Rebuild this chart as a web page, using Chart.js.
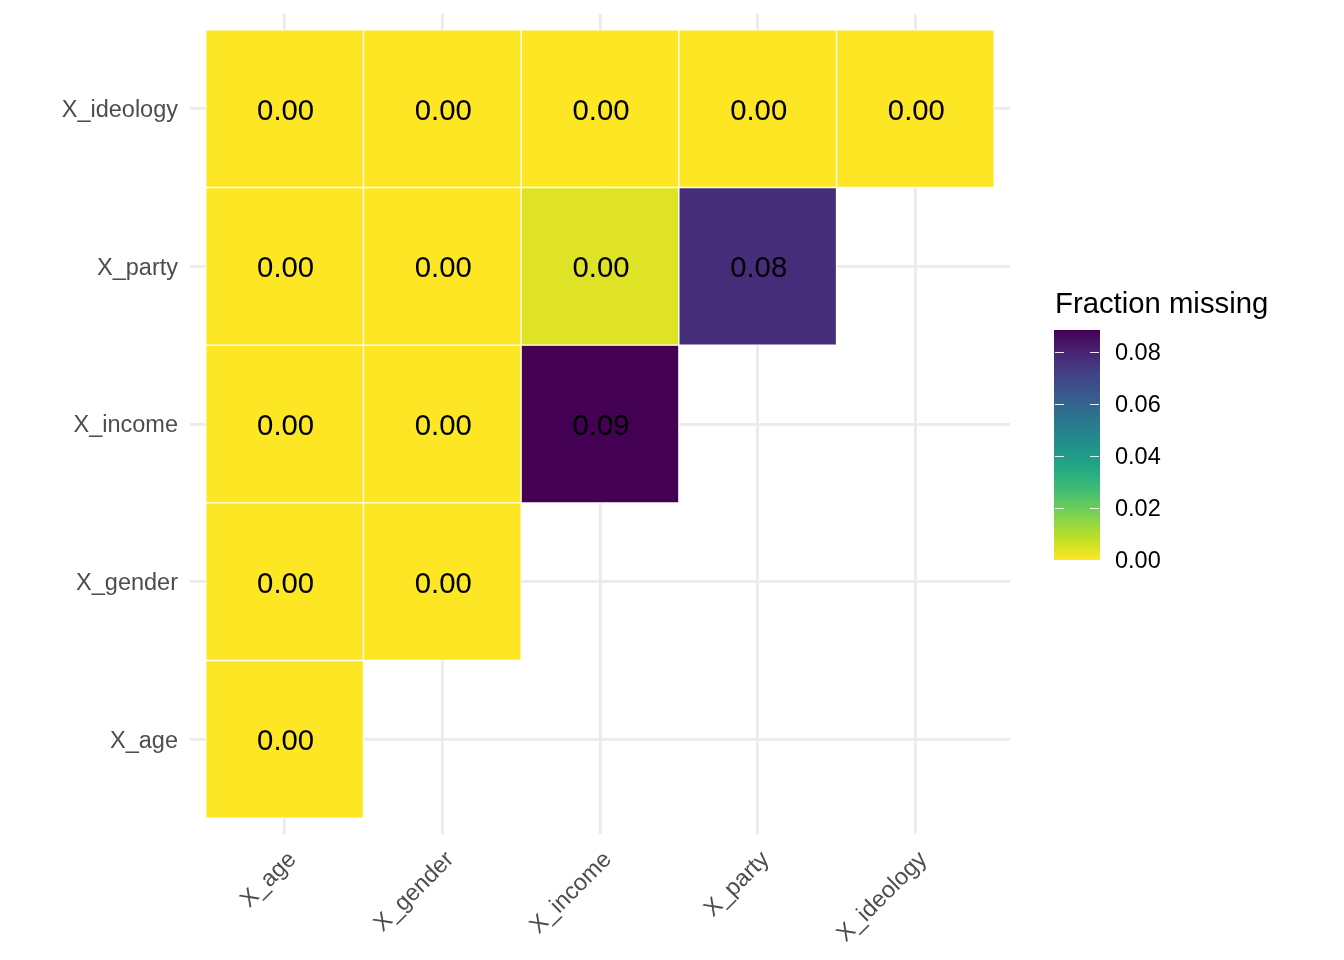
<!DOCTYPE html>
<html>
<head>
<meta charset="utf-8">
<script src="https://cdn.jsdelivr.net/npm/chart.js@4.4.1/dist/chart.umd.min.js"></script>
<style>
  html, body { margin: 0; padding: 0; background: #ffffff; }
  canvas { display: block; }
</style>
</head>
<body>
<canvas id="heatmap" width="1344" height="960"></canvas>
<script>
// variables, bottom to top / left to right
const variables = ['X_age', 'X_gender', 'X_income', 'X_party', 'X_ideology'];

// fraction missing, one row per y variable, columns follow variables
const fracAge = [0.000];
const fracGender = [0.000, 0.000];
const fracIncome = [0.000, 0.000, 0.0883];
const fracParty = [0.000, 0.000, 0.004, 0.077];
const fracIdeology = [0.000, 0.000, 0.000, 0.000, 0.000];

const legendTicks = [0.00, 0.02, 0.04, 0.06, 0.08];
const legendTitle = 'Fraction missing';

const FONT = '"Liberation Sans", Arial, Helvetica, sans-serif';

// viridis stops
const viridis = ['#440154', '#482475', '#414487', '#355F8D', '#2A788E', '#21908D',
  '#22A884', '#42BE71', '#7AD151', '#BBDF27', '#FDE725'];

const hexToRgb = (h) => [1, 3, 5].map((i) => parseInt(h.slice(i, i + 2), 16));

const viridisAt = (t) => {
  t = Math.min(1, Math.max(0, t));
  const pos = t * (viridis.length - 1);
  const i = Math.min(Math.floor(pos), viridis.length - 2);
  const f = pos - i;
  const a = hexToRgb(viridis[i]);
  const b = hexToRgb(viridis[i + 1]);
  const c = a.map((v, k) => Math.round(v + (b[k] - v) * f));
  return `rgb(${c[0]}, ${c[1]}, ${c[2]})`;
};

const rows = [fracAge, fracGender, fracIncome, fracParty, fracIdeology];
const allValues = rows.flat();
const vMin = Math.min(...allValues);
const vMax = Math.max(...allValues);

// reversed viridis: low = yellow, high = purple
const fillFor = (v) => viridisAt(1 - (v - vMin) / (vMax - vMin));

const cells = [];
rows.forEach((row, r) => {
  row.forEach((v, c) => {
    cells.push({ x: c + 1, y: [r + 0.5, r + 1.5], v: v });
  });
});

// text inside each tile
const cellLabels = {
  id: 'cellLabels',
  afterDatasetsDraw(chart) {
    const { ctx } = chart;
    const meta = chart.getDatasetMeta(0);
    ctx.save();
    ctx.font = `29.3px ${FONT}`;
    ctx.fillStyle = '#000000';
    ctx.textAlign = 'center';
    ctx.textBaseline = 'middle';
    meta.data.forEach((bar, i) => {
      const cy = (bar.y + bar.base) / 2;
      ctx.fillText(cells[i].v.toFixed(2), bar.x + 1, cy + 3);
    });
    ctx.restore();
  }
};

// colourbar legend at the right
const colourBar = {
  id: 'colourBar',
  afterDraw(chart) {
    const { ctx } = chart;
    const left = 1054, right = 1100, top = 330, bottom = 560;
    const yFor = (v) => bottom - (v - vMin) / (vMax - vMin) * (bottom - top);
    ctx.save();
    const grad = ctx.createLinearGradient(0, bottom, 0, top);
    for (let s = 0; s <= 40; s++) {
      const v = vMin + (vMax - vMin) * s / 40;
      grad.addColorStop(s / 40, fillFor(v));
    }
    ctx.fillStyle = grad;
    ctx.fillRect(left, top, right - left, bottom - top);

    ctx.strokeStyle = 'rgba(255, 255, 255, 0.9)';
    ctx.lineWidth = 1.2;
    ctx.font = `23.5px ${FONT}`;
    ctx.fillStyle = '#000000';
    ctx.textAlign = 'left';
    ctx.textBaseline = 'middle';
    legendTicks.forEach((t) => {
      const y = Math.round(yFor(t)) + 0.5;
      ctx.beginPath();
      ctx.moveTo(left + 1, y); ctx.lineTo(left + 10, y);
      ctx.moveTo(right - 10, y); ctx.lineTo(right - 1, y);
      ctx.stroke();
      ctx.fillText(t.toFixed(2), 1115, yFor(t) + 2);
    });

    ctx.font = `29.3px ${FONT}`;
    ctx.fillText(legendTitle, 1055, 305);
    ctx.restore();
  }
};

const ticksFor = (scale) => {
  scale.ticks = variables.map((_, i) => ({ value: i + 1 }));
};

new Chart(document.getElementById('heatmap'), {
  type: 'bar',
  data: {
    datasets: [{
      data: cells,
      backgroundColor: cells.map((c) => fillFor(c.v)),
      borderColor: '#ffffff',
      borderWidth: 1,
      borderSkipped: false,
      barPercentage: 1,
      categoryPercentage: 1
    }]
  },
  options: {
    responsive: false,
    devicePixelRatio: 1,
    animation: false,
    layout: { padding: { top: 14, right: 334, bottom: 0, left: 0 } },
    plugins: {
      legend: { display: false },
      tooltip: { enabled: false }
    },
    scales: {
      x: {
        type: 'linear',
        min: 0.4,
        max: 5.6,
        offset: false,
        afterBuildTicks: ticksFor,
        afterFit: (scale) => {
          scale.height = 126;
          scale.paddingLeft = 0;
          scale.paddingRight = 0;
        },
        grid: { offset: false, color: '#EBEBEB', lineWidth: 2.8, drawTicks: false },
        border: { display: false },
        ticks: {
          autoSkip: false,
          minRotation: 45,
          maxRotation: 45,
          padding: 12,
          labelOffset: 8,
          color: '#4D4D4D',
          font: { family: FONT, size: 23.5 },
          callback: (v) => variables[Math.round(v) - 1]
        }
      },
      y: {
        type: 'linear',
        min: 0.4,
        max: 5.6,
        afterBuildTicks: ticksFor,
        afterFit: (scale) => {
          scale.width = 190;
          scale.paddingTop = 0;
          scale.paddingBottom = 0;
        },
        grid: { color: '#EBEBEB', lineWidth: 2.8, drawTicks: false },
        border: { display: false },
        ticks: {
          autoSkip: false,
          padding: 12,
          labelOffset: 2,
          color: '#4D4D4D',
          font: { family: FONT, size: 23.5 },
          callback: (v) => variables[Math.round(v) - 1]
        }
      }
    }
  },
  plugins: [cellLabels, colourBar]
});
</script>
</body>
</html>
